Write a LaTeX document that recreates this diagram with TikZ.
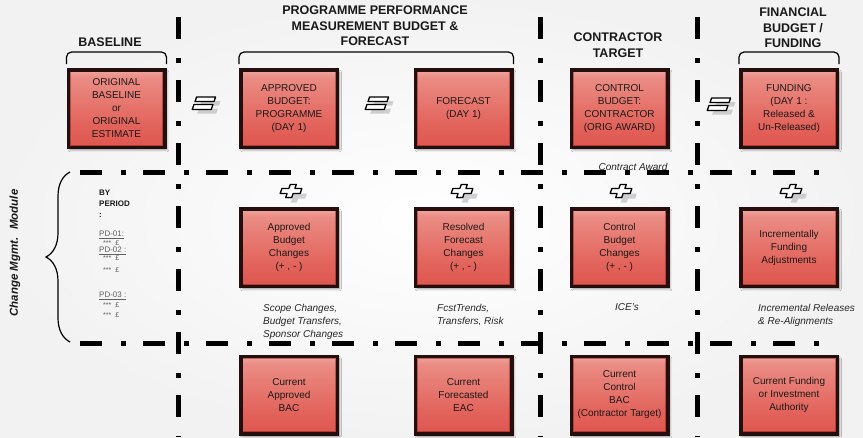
\documentclass[tikz,border=0pt]{standalone}
\usepackage{fontspec}
\setmainfont{Liberation Sans}
\usetikzlibrary{shadows.blur, decorations.pathreplacing}

\definecolor{boxframe}{RGB}{36,14,14}
\definecolor{boxedge}{RGB}{120,28,26}
\definecolor{boxtext}{RGB}{30,24,24}
\definecolor{pdgray}{RGB}{95,95,95}
\definecolor{glA}{RGB}{200,48,44}
\definecolor{glB}{RGB}{218,72,66}
\definecolor{glC}{RGB}{226,100,92}
\definecolor{glD}{RGB}{234,140,132}
\definecolor{glE}{RGB}{250,224,220}
\definecolor{glF}{RGB}{244,205,200}
\definecolor{glG}{RGB}{205,130,125}
\pgfdeclareverticalshading{boxred}{100bp}{color(0bp)=(glA); color(10bp)=(glB); color(40bp)=(glC); color(70bp)=(glD); color(86bp)=(glE); color(93bp)=(glF); color(100bp)=(glG)}

\begin{document}
\begin{tikzpicture}[x=1pt, y=-1pt,
    box/.style={draw=boxframe, line width=3.5pt, shade, shading=boxred, minimum width=96.5pt, minimum height=77.5pt,
      inner sep=2pt, align=center, text=boxtext, font=\fontsize{10}{13}\selectfont,
      path picture={\draw[boxedge, line width=5pt, opacity=.45]
        (path picture bounding box.south west) rectangle (path picture bounding box.north east);},
      blur shadow={shadow xshift=2pt, shadow yshift=-2.5pt, shadow opacity=45}},
    header/.style={align=center, font=\bfseries\fontsize{12.5}{15.5}\selectfont, text=black!90},
    note/.style={align=left, font=\itshape\fontsize{10}{13}\selectfont, text=black!85, inner sep=0pt},
    pdnote/.style={align=left, anchor=north west, inner sep=0pt, text=pdgray},
    divider/.style={line width=5pt, dash pattern=on 22pt off 19pt on 5pt off 17pt},
    bracket/.style={line width=1.2pt, rounded corners=5pt},
    eqsign/.pic={
      \begin{scope}[shift={(5,4)}, xslant=0.35]
        \fill[black!30, opacity=.6] (-9.5,-6) rectangle (9.5,-1.5) (-9.5,1.5) rectangle (9.5,6.5);
      \end{scope}
      \begin{scope}[xslant=0.35]
        \draw[fill=white, line width=1.3pt, line join=round] (-9.5,-6) rectangle (9.5,-1.5) (-9.5,1.5) rectangle (9.5,6.5);
      \end{scope}
    },
    plussign/.pic={
      \begin{scope}[shift={(5,5)}, xslant=0.35]
        \fill[black!30, opacity=.6] (-3,-6.5) -- (3,-6.5) -- (3,-2.5) -- (10,-2.5) -- (10,2.5) -- (3,2.5) -- (3,6.5)
          -- (-3,6.5) -- (-3,2.5) -- (-10,2.5) -- (-10,-2.5) -- (-3,-2.5) -- cycle;
      \end{scope}
      \begin{scope}[xslant=0.35]
        \draw[fill=white, line width=1.3pt, line join=round] (-3,-6.5) -- (3,-6.5) -- (3,-2.5) -- (10,-2.5) -- (10,2.5)
          -- (3,2.5) -- (3,6.5) -- (-3,6.5) -- (-3,2.5) -- (-10,2.5) -- (-10,-2.5) -- (-3,-2.5) -- cycle;
      \end{scope}
    }
  ]
    \useasboundingbox (0,0) rectangle (863,437);
    \shade[inner color=white, outer color=black!5] (0,0) rectangle (863,437);

    % grid lines
    \draw[divider] (178,17) -- (178,437);
    \draw[divider] (540,17) -- (540,437);
    \draw[divider] (697,17) -- (697,437);
    \draw[divider] (80,172) -- (826,172);
    \draw[divider] (80,343) -- (826,343);

    % column headings
    \node[header] (hbase) at (110,42) {BASELINE};
    \node[header] (hppm) at (375,26) {PROGRAMME PERFORMANCE\\MEASUREMENT BUDGET \&\\FORECAST};
    \node[header] (hctr) at (618,45) {CONTRACTOR\\TARGET};
    \node[header] (hfin) at (793,28) {FINANCIAL\\BUDGET /\\FUNDING};

    % day 1 row
    \node[box] (orig) at (116.5,108.5) {ORIGINAL\\BASELINE\\or\\ORIGINAL\\ESTIMATE};
    \node[box] (apprbud) at (289,108.5) {APPROVED\\BUDGET:\\PROGRAMME\\(DAY 1)};
    \node[box] (fcst) at (463.5,108.5) {FORECAST\\(DAY 1)};
    \node[box] (ctrlbud) at (619.5,108.5) {CONTROL\\BUDGET:\\CONTRACTOR\\(ORIG AWARD)};
    \node[box] (funding) at (789,108.5) {FUNDING\\(DAY 1 :\\Released \&\\Un-Released)};

    \draw[bracket] ([yshift=4pt]orig.north west) -- ++(0,-12) -| ([yshift=4pt]orig.north east);
    \draw[bracket] ([yshift=4pt]apprbud.north west) -- ++(0,-12) -| ([yshift=4pt]fcst.north east);
    \draw[bracket] ([yshift=4pt]funding.north west) -- ++(0,-12) -| ([yshift=4pt]funding.north east);

    \pic at (204,103) {eqsign};
    \pic at (377,103) {eqsign};
    \pic at (719,104) {eqsign};

    % change row
    \node[box] (apprchg) at (289,247.5) {Approved\\Budget\\Changes\\(+ , - )};
    \node[box] (fcstchg) at (463.5,247.5) {Resolved\\Forecast\\Changes\\(+ , - )};
    \node[box] (ctrlchg) at (619.5,247.5) {Control\\Budget\\Changes\\(+ , - )};
    \node[box] (fundadj) at (789,247.5) {Incrementally\\Funding\\Adjustments};

    \pic at (291,191) {plussign};
    \pic at (462,191) {plussign};
    \pic at (621,191) {plussign};
    \pic at (791,191) {plussign};

    \node[note] (award) at (633,167) {Contract Award};
    \node[note, anchor=west] (scope) at (263,321.5) {Scope Changes,\\Budget Transfers,\\Sponsor Changes};
    \node[note, anchor=west] (trends) at (437,315) {FcstTrends,\\Transfers, Risk};
    \node[note] (ices) at (627,307) {ICE's};
    \node[note, anchor=west] (increl) at (758,315) {Incremental Releases\\\& Re-Alignments};

    % change module side
    \draw[line width=1.2pt, decorate, decoration={brace, amplitude=24pt}] (70,342) -- (70,172);
    \node[rotate=90, font=\bfseries\itshape\fontsize{11.5}{14}\selectfont, text=black!90] (cmm) at (15,253) {Change Mgmt.~ Module};
    \node[pdnote, text=black!90, font=\bfseries\fontsize{8}{11}\selectfont] (byperiod) at (99,190) {BY\\PERIOD\\:};
    \node[pdnote, font=\fontsize{8}{10}\selectfont] (pd1) at (99,231) {\underline{PD-01:}\\[-1pt]\hspace*{4pt}{\fontsize{7}{8}\selectfont *** \ £}};
    \node[pdnote, font=\fontsize{8}{10}\selectfont] (pd2) at (99,247) {\underline{PD-02 :}\\[-2pt]\hspace*{4pt}{\fontsize{7}{8}\selectfont *** \ £}\\[2pt]\hspace*{4pt}{\fontsize{7}{8}\selectfont *** \ £}};
    \node[pdnote, font=\fontsize{8}{10}\selectfont] (pd3) at (99,292) {\underline{PD-03 :}\\\hspace*{4pt}{\fontsize{7}{8}\selectfont *** \ £}\\\hspace*{4pt}{\fontsize{7}{8}\selectfont *** \ £}};

    % current row
    \node[box] (curbac) at (289,395) {Current\\Approved\\BAC};
    \node[box] (cureac) at (463.5,395) {Current\\Forecasted\\EAC};
    \node[box] (curctrl) at (619.5,395) {Current\\Control\\BAC\\(Contractor Target)};
    \node[box] (curfund) at (789,395) {Current Funding\\or Investment\\Authority};
\end{tikzpicture}
\end{document}
